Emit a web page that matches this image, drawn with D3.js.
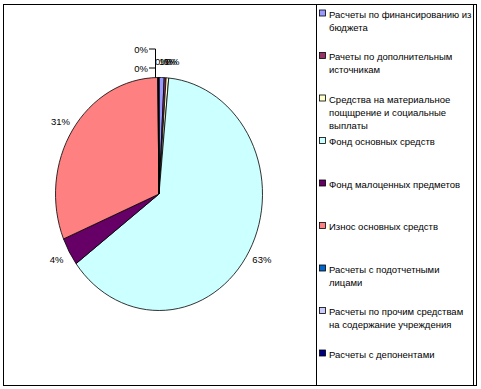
<!DOCTYPE html>
<html>
<head>
<meta charset="utf-8">
<script src="https://cdn.jsdelivr.net/npm/d3@7"></script>
<style>
  body { margin: 0; background: #fff; }
  svg text { font-family: "Liberation Sans", Arial, sans-serif; }
</style>
</head>
<body>
<div id="chart"></div>
<script>
// chart data
const categories = [
    'Расчеты по финансированию из бюджета',
    'Рачеты по дополнительным источникам',
    'Средства на материальное пощщрение и социальные выплаты',
    'Фонд основных средств',
    'Фонд малоценных предметов',
    'Износ основных средств',
    'Расчеты с подотчетными лицами',
    'Расчеты по прочим средствам на содержание учреждения',
    'Расчеты с депонентами'
];
const shares = [0.8, 0.3, 0.4, 63.3, 3.9, 31.1, 0.1, 0.05, 0.05];
const colors = ['#9999FF', '#993366', '#FFFFCC', '#CCFFFF', '#660066', '#FF8080', '#0066CC', '#CCCCFF', '#000080'];

const width = 481;
const height = 389;
const cx = 159, cy = 194;
const rx = 103.5, ry = 116.5;

const svg = d3.select('#chart')
    .append('svg')
    .attr('width', width)
    .attr('height', height);

// outer frame and legend box
svg.append('rect')
    .attr('x', 3.5).attr('y', 4.5)
    .attr('width', 473).attr('height', 381)
    .attr('fill', 'none').attr('stroke', '#000');
svg.append('rect')
    .attr('x', 316.5).attr('y', 4.5)
    .attr('width', 157).attr('height', 381)
    .attr('fill', 'none').attr('stroke', '#000');

const data = categories.map((c, i) => ({ name: c, value: shares[i], color: colors[i] }));
const total = d3.sum(shares);

const pie = d3.pie().value(d => d.value).sort(null);
const arcs = pie(data);
const arc = d3.arc().innerRadius(0).outerRadius(rx);

svg.append('g')
    .attr('transform', `translate(${cx},${cy}) scale(1,${ry / rx})`)
    .selectAll('path')
    .data(arcs)
    .join('path')
    .attr('d', arc)
    .attr('fill', d => d.data.color)
    .attr('stroke', '#000')
    .attr('stroke-width', 0.8)
    .attr('vector-effect', 'non-scaling-stroke');

// percentage labels
let pct = d => Math.round(d.data.value / total * 100) + '%';
let labelPos = (d, k) => {
    const a = (d.startAngle + d.endAngle) / 2;
    return [cx + Math.sin(a) * rx * k, cy - Math.cos(a) * ry * k];
};

const labels = svg.append('g')
    .attr('font-size', '9.5px')
    .attr('fill', '#000');

arcs.forEach((d, i) => {
    let [x, y] = labelPos(d, 1.14);
    if (i >= 7) {
        // two tiny slices moved aside with leader lines
        const ly = i === 7 ? 68 : 49;
        labels.append('text')
            .attr('x', 148).attr('y', ly)
            .attr('text-anchor', 'end')
            .attr('dominant-baseline', 'central')
            .text(pct(d));
        labels.append('path')
            .attr('d', i === 7
                ? `M149,${ly}H155.5`
                : `M149,${ly}H155.5V${cy - ry}`)
            .attr('fill', 'none')
            .attr('stroke', '#000')
            .attr('stroke-width', 1);
        return;
    }
    if (i < 3 || i === 6) x += 4;
    labels.append('text')
        .attr('x', x).attr('y', y)
        .attr('text-anchor', 'middle')
        .attr('dominant-baseline', 'central')
        .text(pct(d));
});

// legend
const legend = svg.append('g').attr('font-size', '9.5px');
const lineH = 13;
const maxW = 143;

data.forEach((d, i) => {
    const y0 = 13.5 + i * 42.5;
    legend.append('rect')
        .attr('x', 319.5).attr('y', y0 - 3.5)
        .attr('width', 6).attr('height', 6)
        .attr('fill', d.color)
        .attr('stroke', '#000')
        .attr('stroke-width', 0.8);

    const t = legend.append('text')
        .attr('x', 329).attr('y', y0)
        .attr('dominant-baseline', 'central');
    const words = d.name.split(' ');
    let line = [];
    let n = 0;
    let ts = t.append('tspan').attr('x', 329).attr('y', y0);
    words.forEach(w => {
        line.push(w);
        ts.text(line.join(' '));
        if (ts.node().getComputedTextLength() > maxW && line.length > 1) {
            line.pop();
            ts.text(line.join(' '));
            line = [w];
            n++;
            ts = t.append('tspan').attr('x', 329).attr('y', y0 + n * lineH).text(w);
        }
    });
});
</script>
</body>
</html>
